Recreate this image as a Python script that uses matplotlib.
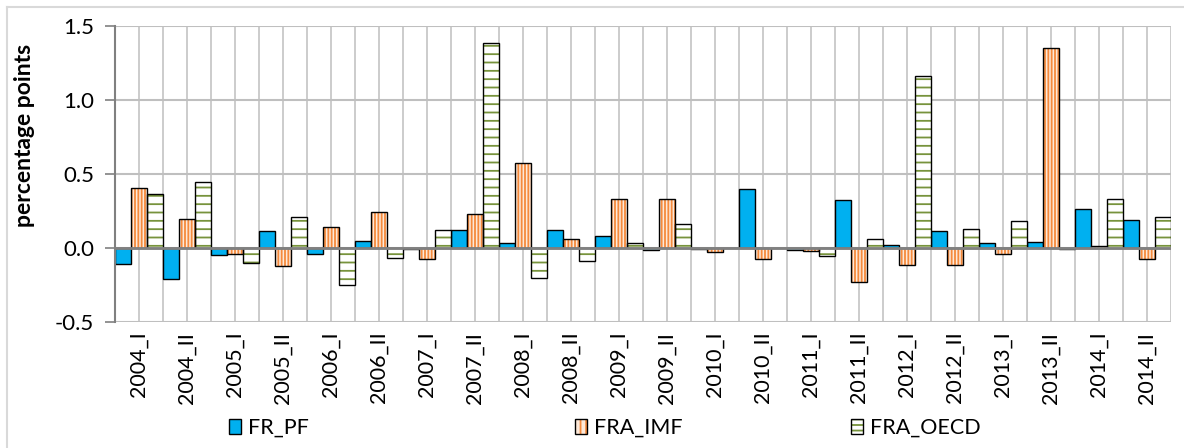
import matplotlib
matplotlib.use("Agg")
import matplotlib.pyplot as plt
import numpy as np
from matplotlib.patches import Patch
from matplotlib.lines import Line2D

# Half-year periods
periods = [
    "2004_I", "2004_II", "2005_I", "2005_II", "2006_I", "2006_II",
    "2007_I", "2007_II", "2008_I", "2008_II", "2009_I", "2009_II",
    "2010_I", "2010_II", "2011_I", "2011_II", "2012_I", "2012_II",
    "2013_I", "2013_II", "2014_I", "2014_II",
]

fr_pf = [-0.105, -0.207, -0.05, 0.113, -0.04, 0.05, -0.008, 0.12, 0.032, 0.12, 0.079,
         -0.015, -0.01, 0.399, -0.015, 0.327, 0.023, 0.113, 0.032, 0.041, 0.264, 0.192]
fra_imf = [0.405, 0.199, -0.038, -0.122, 0.142, 0.241, -0.072, 0.232, 0.574, 0.063, 0.333,
           0.333, -0.03, -0.072, -0.022, -0.232, -0.112, -0.112, -0.04, 1.354, 0.014, -0.076]
fra_oecd = [0.367, 0.446, -0.099, 0.207, -0.247, -0.065, 0.12, 1.388, -0.2, -0.09, 0.032,
            0.16, 0.0, 0.0, -0.056, 0.063, 1.162, 0.128, 0.185, -0.01, 0.333, 0.207]

series_names = ["FR_PF", "FRA_IMF", "FRA_OECD"]
yticks = [-0.5, 0.0, 0.5, 1.0, 1.5]

plt.rcParams["font.family"] = ["Lato", "DejaVu Sans"]
plt.rcParams["axes.unicode_minus"] = False
plt.rcParams["hatch.linewidth"] = 1.3

BLUE = "#00B0F0"
ORANGE = "#F58A3C"
ORANGE_BG = "#FDE9D9"
GREEN = "#77933C"
GRID = "#BFBFBF"
AXIS = "#808080"

fig = plt.figure(figsize=(11.84, 4.48), dpi=100)
ax = fig.add_axes([115 / 1184, 1 - 322 / 448, 1056 / 1184, 296 / 448])

x = np.arange(len(periods))
w = 1 / 3

# blue solid bars
ax.bar(x - w, fr_pf, width=w, color=BLUE, edgecolor="black", linewidth=1.0, zorder=2)
# orange vertical stripes (hatch layer + black outline)
ax.bar(x, fra_imf, width=w, facecolor=ORANGE_BG, edgecolor=ORANGE, hatch="|" * 5,
       linewidth=0, zorder=2)
ax.bar(x, fra_imf, width=w, fill=False, edgecolor="black", linewidth=1.0, zorder=2.1)
# green horizontal stripes
ax.bar(x + w, fra_oecd, width=w, facecolor="white", edgecolor=GREEN, hatch="--",
       linewidth=0, zorder=2)
ax.bar(x + w, fra_oecd, width=w, fill=False, edgecolor="black", linewidth=1.0, zorder=2.1)

ax.axhline(0, color=AXIS, linewidth=2, zorder=3)

ax.set_xlim(-0.5, len(periods) - 0.5)
ax.set_ylim(-0.5, 1.5)
ax.set_yticks(yticks)
ax.set_yticklabels([f"{v:.1f}" for v in yticks])
ax.yaxis.grid(True, color=GRID, linewidth=1.5, zorder=0)
ax.set_axisbelow(True)

# vertical gridlines at category edges and centres
for gx in np.arange(0, len(periods) + 0.5, 0.5):
    ax.axvline(gx - 0.5, color="#C8C8C8", linewidth=1.3, zorder=0)

ax.set_xticks(x)
ax.set_xticklabels(periods, rotation=90, fontsize=15.5)
ax.tick_params(axis="x", length=0, pad=7)
ax.tick_params(axis="y", length=7, width=1.2, color=AXIS, labelsize=16, pad=8)

for side in ["top", "right", "bottom"]:
    ax.spines[side].set_visible(False)
ax.spines["left"].set_color(AXIS)
ax.spines["left"].set_linewidth(1.5)

ax.set_ylabel("percentage points", fontsize=16.5, fontweight="bold")
ax.yaxis.set_label_coords(-0.076, 0.63)

# legend: one entry each, placed like the original
handles = [
    Patch(facecolor=BLUE, edgecolor="black", linewidth=1.0),
    (Patch(facecolor=ORANGE_BG, edgecolor=ORANGE, hatch="|||", linewidth=0),
     Patch(fill=False, edgecolor="black", linewidth=1.0)),
    (Patch(facecolor="white", edgecolor=GREEN, hatch="---", linewidth=0),
     Patch(fill=False, edgecolor="black", linewidth=1.0)),
]
legend_x = [229, 575, 851]
for h, name, lx in zip(handles, series_names, legend_x):
    fig.legend([h], [name], loc="center left", bbox_to_anchor=(lx / 1184, 1 - 428 / 448),
               frameon=False, fontsize=15.5, handlelength=0.55, handleheight=0.65,
               handletextpad=0.35, borderpad=0, borderaxespad=0)

# outer chart border
fig.add_artist(Line2D([7 / 1184, 7 / 1184], [0, 1 - 7 / 448], color="#D9D9D9",
                      linewidth=1.5, transform=fig.transFigure))
fig.add_artist(Line2D([7 / 1184, 1], [1 - 7 / 448, 1 - 7 / 448], color="#D9D9D9",
                      linewidth=1.5, transform=fig.transFigure))

fig.savefig("out.png", dpi=100)
plt.close(fig)
